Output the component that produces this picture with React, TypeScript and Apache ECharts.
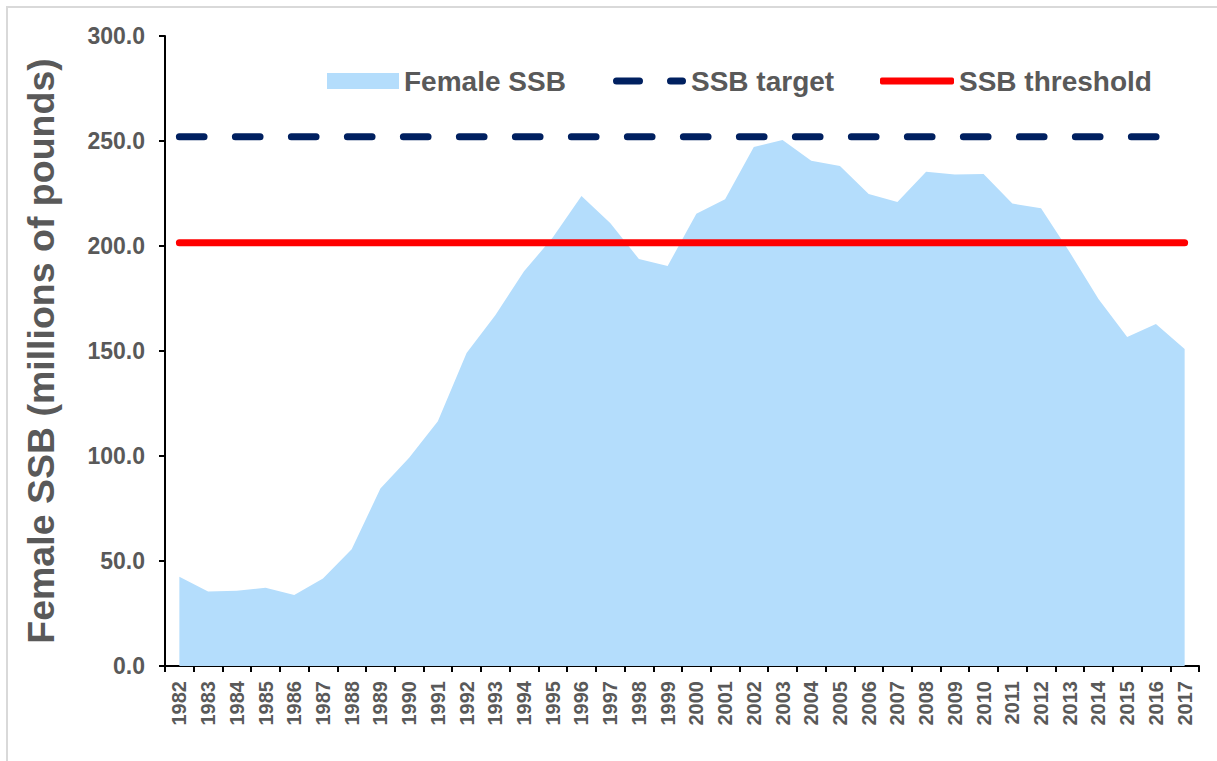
import React, { useEffect, useRef } from "react";
import * as echarts from "echarts";

const years: string[] = [
  "1982", "1983", "1984", "1985", "1986", "1987", "1988", "1989", "1990", "1991",
  "1992", "1993", "1994", "1995", "1996", "1997", "1998", "1999", "2000", "2001",
  "2002", "2003", "2004", "2005", "2006", "2007", "2008", "2009", "2010", "2011",
  "2012", "2013", "2014", "2015", "2016", "2017",
];

const femaleSSB: number[] = [
  42.5, 35.5, 35.8, 37.3, 33.8, 41.7, 55.6, 84.5, 99.2, 116.5,
  149.0, 167.0, 188.0, 204.0, 223.8, 211.0, 193.8, 190.5, 215.3, 222.3,
  247.2, 250.5, 240.6, 238.1, 224.8, 221.0, 235.4, 234.1, 234.3, 220.2,
  218.0, 197.0, 174.8, 156.7, 162.9, 150.9,
];

const ssbTargetValue = 252.0;
const ssbThresholdValue = 201.5;
const ssbTarget: number[] = years.map(() => ssbTargetValue);
const ssbThreshold: number[] = years.map(() => ssbThresholdValue);

const yTicks = { min: 0, max: 300, interval: 50 };

const FONT = "'Liberation Sans', Arial, sans-serif";
const GRAY = "#595959";
const AREA = "#b4ddfc";
const NAVY = "#002060";
const RED = "#ff0000";

const dashIcon =
  "path://M3.5,0 L26.5,0 A3.5,3.5 0 0 1 26.5,7 L3.5,7 A3.5,3.5 0 0 1 3.5,0 Z " +
  "M57.5,0 L69.5,0 A3.5,3.5 0 0 1 69.5,7 L57.5,7 A3.5,3.5 0 0 1 57.5,0 Z";

export default function App() {
  const ref = useRef<HTMLDivElement>(null);

  useEffect(() => {
    if (!ref.current) return;
    const chart = echarts.init(ref.current, null, { renderer: "svg" });
    const legendText = {
      color: GRAY,
      fontSize: 28,
      fontWeight: "bold" as const,
      fontFamily: FONT,
      lineHeight: 28,
    };
    chart.setOption({
      animation: false,
      backgroundColor: "#ffffff",
      textStyle: { fontFamily: FONT },
      graphic: [
        {
          type: "rect",
          shape: { x: 7, y: 7, width: 1240, height: 800 },
          style: { fill: "none", stroke: "#d9d9d9", lineWidth: 2 },
          silent: true,
        },
      ],
      grid: { left: 165, right: 18, top: 36, bottom: 95, containLabel: false },
      legend: [
        {
          left: 327,
          top: 67,
          padding: 0,
          selectedMode: false,
          itemWidth: 72,
          itemHeight: 16,
          textStyle: legendText,
          data: [
            { name: "Female SSB", icon: "rect", itemStyle: { color: AREA, borderWidth: 0 } },
          ],
        },
        {
          left: 613,
          top: 67,
          padding: 0,
          selectedMode: false,
          itemWidth: 73,
          itemHeight: 7,
          symbolKeepAspect: false,
          textStyle: legendText,
          data: [
            { name: "SSB target", icon: dashIcon, itemStyle: { color: NAVY, borderWidth: 0 } },
          ],
        },
        {
          left: 880,
          top: 67,
          padding: 0,
          selectedMode: false,
          itemWidth: 74,
          itemHeight: 7,
          textStyle: legendText,
          data: [
            { name: "SSB threshold", icon: "roundRect", itemStyle: { color: RED, borderWidth: 0 } },
          ],
        },
      ],
      xAxis: {
        type: "category",
        data: years,
        boundaryGap: true,
        axisLine: { lineStyle: { color: "#000000", width: 2 } },
        axisTick: { show: true, length: 6, lineStyle: { color: "#000000", width: 2 } },
        axisLabel: {
          interval: 0,
          rotate: 90,
          margin: 15,
          color: GRAY,
          fontSize: 20,
          fontWeight: "bold",
          fontFamily: FONT,
        },
        splitLine: { show: false },
      },
      yAxis: {
        type: "value",
        min: yTicks.min,
        max: yTicks.max,
        interval: yTicks.interval,
        name: "Female SSB (millions of pounds)",
        nameLocation: "middle",
        nameGap: 105,
        nameTextStyle: {
          color: GRAY,
          fontSize: 37.5,
          fontWeight: "bold",
          fontFamily: FONT,
        },
        axisLine: { show: true, lineStyle: { color: "#000000", width: 2 } },
        axisTick: { show: true, length: 6, lineStyle: { color: "#000000", width: 2 } },
        axisLabel: {
          margin: 20,
          color: GRAY,
          fontSize: 23,
          fontWeight: "bold",
          fontFamily: FONT,
          formatter: (v: number) => v.toFixed(1),
        },
        splitLine: { show: false },
      },
      series: [
        {
          name: "Female SSB",
          type: "line",
          data: femaleSSB,
          symbol: "none",
          color: AREA,
          lineStyle: { width: 0, color: AREA },
          areaStyle: { color: AREA, opacity: 1 },
          z: 1,
        },
        {
          name: "SSB target",
          type: "line",
          data: ssbTarget,
          symbol: "none",
          color: NAVY,
          lineStyle: { width: 7, color: NAVY, type: [24.7, 31.3], cap: "round" },
          z: 3,
        },
        {
          name: "SSB threshold",
          type: "line",
          data: ssbThreshold,
          symbol: "none",
          color: RED,
          lineStyle: { width: 7, color: RED, cap: "round" },
          z: 2,
        },
      ],
    });
    return () => chart.dispose();
  }, []);

  return (
    <div
      ref={ref}
      style={{ position: "fixed", left: 0, top: 0, width: 1217, height: 761 }}
    />
  );
}
